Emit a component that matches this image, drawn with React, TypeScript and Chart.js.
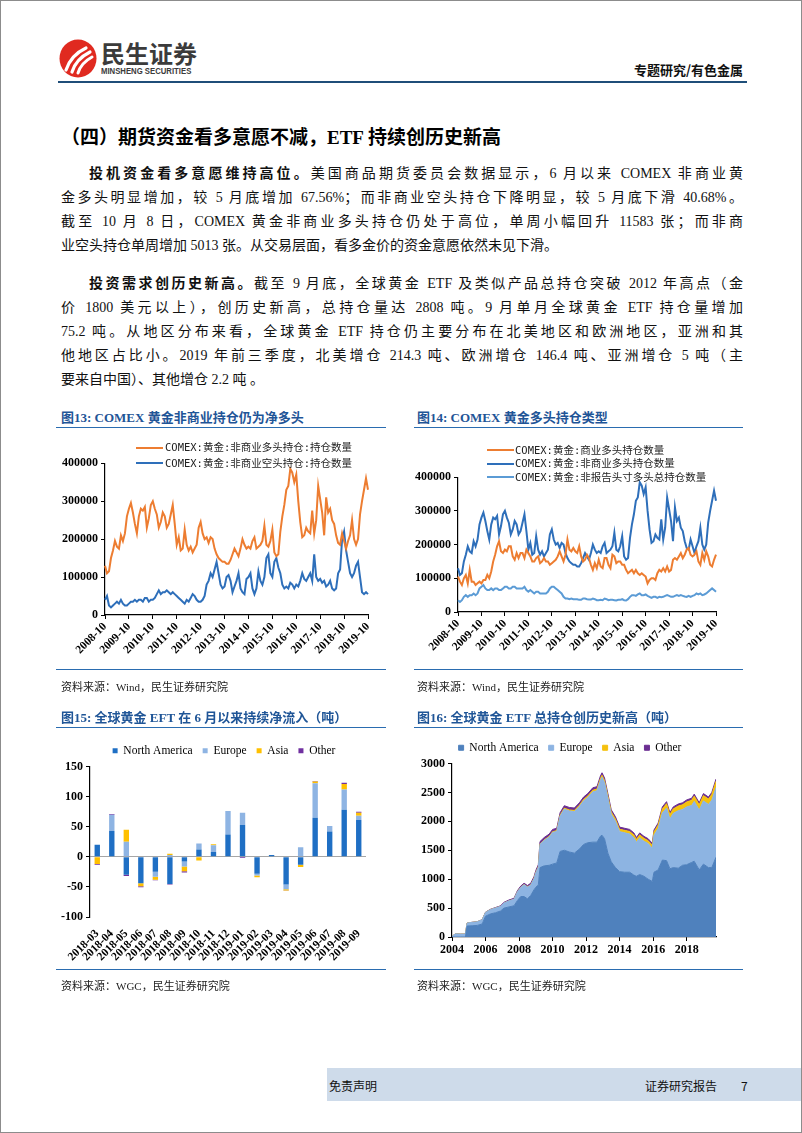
import React, { useEffect, useRef } from 'react';
import { Chart, registerables } from 'chart.js';

Chart.register(...registerables);

const SERIF = '"Liberation Serif", "Times New Roman", serif';
const BODY = '"Liberation Serif", "Noto Sans CJK SC", serif';
const CJK = '"Noto Sans CJK SC", sans-serif';
const MONO = '"DejaVu Sans Mono", "Noto Sans CJK SC", monospace';

Chart.defaults.font.family = SERIF;

// ---------- Chart 13 / 14 : COMEX positions (monthly, 2008-10 .. 2019-10) ----------
const monthLabels: string[] = [];
for (let y = 2008; y <= 2019; y++) {
  for (let m = 1; m <= 12; m++) {
    if ((y === 2008 && m < 10) || (y === 2019 && m > 10)) continue;
    monthLabels.push(`${y}-${String(m).padStart(2, '0')}`);
  }
}

const nonCommLong = [
  130000, 110000, 115000,
  150000, 170000, 195000, 180000, 175000, 210000, 195000, 215000, 260000, 280000, 295000, 270000,
  240000, 215000, 260000, 280000, 275000, 285000, 230000, 255000, 290000, 300000, 280000, 265000,
  230000, 245000, 270000, 260000, 230000, 240000, 265000, 290000, 240000, 185000, 205000, 170000,
  175000, 225000, 185000, 170000, 180000, 165000, 175000, 185000, 230000, 245000, 215000, 200000,
  205000, 190000, 205000, 200000, 175000, 160000, 150000, 145000, 140000, 140000, 135000, 135000,
  145000, 160000, 175000, 165000, 155000, 175000, 200000, 185000, 175000, 180000, 175000, 195000,
  205000, 175000, 180000, 185000, 195000, 235000, 185000, 180000, 195000, 225000, 165000, 155000,
  160000, 220000, 260000, 290000, 330000, 340000, 385000, 375000, 350000, 370000, 300000, 245000,
  205000, 210000, 230000, 220000, 215000, 275000, 215000, 250000, 340000, 305000, 270000, 210000,
  310000, 270000, 280000, 250000, 240000, 210000, 190000, 185000, 215000, 195000, 175000, 195000,
  210000, 250000, 200000, 185000, 200000, 265000, 300000, 330000, 360000, 330000,
];

const nonCommShort = [
  40000, 50000, 25000,
  20000, 25000, 30000, 35000, 30000, 40000, 30000, 25000, 25000, 30000, 35000, 35000,
  40000, 35000, 40000, 40000, 35000, 45000, 45000, 35000, 40000, 40000, 45000, 55000,
  65000, 55000, 60000, 60000, 65000, 60000, 55000, 60000, 55000, 50000, 45000, 40000,
  35000, 30000, 40000, 35000, 45000, 55000, 50000, 40000, 35000, 35000, 40000, 50000,
  80000, 90000, 110000, 100000, 120000, 140000, 110000, 80000, 70000, 75000, 100000, 105000,
  90000, 60000, 75000, 90000, 110000, 70000, 60000, 55000, 95000, 100000, 110000, 70000,
  55000, 70000, 115000, 90000, 80000, 100000, 150000, 160000, 110000, 100000, 140000, 150000,
  125000, 110000, 80000, 70000, 75000, 70000, 85000, 80000, 70000, 80000, 75000, 90000,
  110000, 95000, 90000, 100000, 110000, 90000, 160000, 100000, 90000, 95000, 85000, 90000,
  75000, 80000, 90000, 70000, 65000, 70000, 110000, 120000, 200000, 220000, 170000, 140000,
  110000, 100000, 110000, 130000, 140000, 100000, 60000, 55000, 60000, 55000,
];

const commLong = [
  105000, 90000, 80000,
  100000, 110000, 85000, 125000, 90000, 90000, 80000, 85000, 90000, 85000, 95000, 95000,
  110000, 100000, 120000, 150000, 170000, 195000, 210000, 180000, 175000, 185000, 180000, 195000,
  195000, 165000, 155000, 175000, 160000, 175000, 175000, 160000, 185000, 175000, 165000, 150000,
  150000, 160000, 165000, 145000, 150000, 160000, 150000, 150000, 140000, 145000, 150000, 155000,
  165000, 180000, 165000, 150000, 170000, 215000, 185000, 180000, 190000, 180000, 175000, 195000,
  165000, 150000, 155000, 170000, 160000, 140000, 125000, 145000, 130000, 155000, 135000, 130000,
  160000, 160000, 140000, 130000, 170000, 165000, 145000, 150000, 150000, 140000, 140000, 125000,
  115000, 120000, 125000, 115000, 125000, 115000, 110000, 115000, 110000, 105000, 85000, 95000,
  100000, 100000, 95000, 115000, 125000, 120000, 130000, 120000, 135000, 120000, 125000, 155000,
  160000, 155000, 165000, 175000, 160000, 170000, 185000, 190000, 170000, 165000, 170000, 180000,
  150000, 140000, 175000, 155000, 180000, 165000, 140000, 135000, 155000, 170000,
];

const nonReportLong = [
  35000, 30000, 35000,
  45000, 50000, 45000, 50000, 50000, 55000, 50000, 55000, 70000, 75000, 80000, 70000,
  65000, 65000, 70000, 65000, 70000, 70000, 65000, 65000, 70000, 75000, 75000, 70000,
  70000, 75000, 75000, 70000, 70000, 70000, 70000, 75000, 65000, 60000, 65000, 60000,
  55000, 60000, 60000, 55000, 55000, 55000, 55000, 60000, 70000, 75000, 75000, 70000,
  65000, 60000, 55000, 45000, 40000, 40000, 38000, 40000, 38000, 38000, 38000, 36000,
  36000, 40000, 40000, 38000, 37000, 37000, 40000, 38000, 35000, 35000, 36000, 35000,
  40000, 38000, 35000, 36000, 36000, 35000, 34000, 36000, 36000, 38000, 35000, 34000,
  38000, 45000, 50000, 50000, 48000, 52000, 55000, 50000, 50000, 52000, 48000, 45000,
  42000, 45000, 45000, 42000, 45000, 44000, 45000, 48000, 50000, 48000, 45000, 45000,
  48000, 50000, 48000, 50000, 48000, 46000, 45000, 48000, 45000, 48000, 50000, 55000,
  52000, 55000, 50000, 52000, 55000, 60000, 65000, 70000, 65000, 60000,
];

// ---------- Chart 15 : monthly ETF flows (tonnes) ----------
const flowMonths = [
  '2018-03', '2018-04', '2018-05', '2018-06', '2018-07', '2018-08', '2018-09', '2018-10', '2018-11', '2018-12',
  '2019-01', '2019-02', '2019-03', '2019-04', '2019-05', '2019-06', '2019-07', '2019-08', '2019-09',
];
const flowNA = [20, 43, -30, -44, -25, -45, -8, 12, 8, 37, 53, -28, 3, -46, -13, 65, 42, 78, 61];
const flowEU = [0, 27, 25, 0, -8, 3, -8, 10, 11, 39, 20, -3, 0, -8, 16, 57, 9, 34, 7];
const flowAsia = [-12, 0, 20, -5, -5, 2, -8, -6, 2, 0, 0, -3, 0, -2, -4, 3, 0, 9, 5];
const flowOther = [-1, 1, -2, -1.5, -1, -1, -2, 0, 0, 0, -2, 0, 0, -0.5, 0, 1, 0, 2, 2];

// ---------- Chart 16 : ETF holdings (tonnes) ----------
const etfDates = [
  2004.0, 2004.2, 2004.5, 2004.8, 2004.9, 2005.2, 2005.5, 2005.8, 2006.0, 2006.3, 2006.6, 2006.9,
  2007.1, 2007.4, 2007.7, 2007.9, 2008.1, 2008.3, 2008.5, 2008.7, 2008.9, 2009.0, 2009.15, 2009.25,
  2009.5, 2009.8, 2010.0, 2010.25, 2010.45, 2010.7, 2011.0, 2011.3, 2011.6, 2011.85, 2012.1, 2012.4,
  2012.65, 2012.85, 2012.95, 2013.1, 2013.3, 2013.5, 2013.75, 2014.0, 2014.3, 2014.6, 2014.85, 2015.0,
  2015.2, 2015.45, 2015.7, 2015.95, 2016.05, 2016.3, 2016.55, 2016.8, 2017.0, 2017.2, 2017.5, 2017.75,
  2018.0, 2018.3, 2018.45, 2018.75, 2019.0, 2019.3, 2019.5, 2019.75,
];
const holdNA = [
  0, 0, 0, 0, 190, 195, 200, 225, 360, 400, 420, 450,
  500, 520, 540, 630, 700, 700, 660, 720, 820, 860, 900, 1200,
  1230, 1240, 1260, 1280, 1480, 1500, 1470, 1450, 1520, 1600, 1630, 1640,
  1640, 1740, 1760, 1700, 1450, 1300, 1200, 1130, 1120, 1120, 1070, 1050,
  1080, 1050, 1000, 960, 1120, 1160, 1330, 1320, 1180, 1200, 1190, 1240,
  1250, 1290, 1310, 1160, 1260, 1200, 1200, 1380,
];
const holdEU = [
  10, 55, 50, 50, 50, 58, 62, 72, 65, 75, 82, 80,
  88, 105, 112, 150, 158, 205, 203, 177, 195, 252, 306, 402,
  441, 490, 548, 546, 612, 711, 710, 718, 736, 754, 782, 870,
  888, 963, 1002, 971, 953, 824, 802, 692, 682, 660, 649, 587,
  636, 606, 616, 575, 641, 717, 815, 910, 860, 938, 995, 963,
  999, 985, 1035, 1035, 1093, 1093, 1166, 1204,
];
const holdAsia = [
  0, 0, 0, 0, 0, 0, 0, 0, 0, 0, 0, 0,
  0, 0, 0, 0, 2, 3, 4, 5, 5, 6, 7, 8,
  9, 10, 12, 14, 16, 17, 18, 20, 22, 24, 26, 28,
  30, 32, 33, 34, 35, 36, 38, 40, 42, 44, 46, 48,
  50, 50, 50, 52, 56, 60, 70, 75, 75, 77, 80, 82,
  86, 90, 90, 90, 92, 92, 98, 108,
];
const holdOther = [
  0, 0, 0, 0, 0, 2, 3, 3, 5, 5, 8, 10,
  12, 15, 18, 20, 20, 22, 23, 28, 30, 32, 37, 40,
  40, 40, 40, 40, 42, 42, 42, 42, 42, 42, 42, 42,
  42, 45, 45, 45, 42, 40, 40, 38, 36, 36, 35, 35,
  34, 34, 34, 33, 33, 33, 35, 35, 35, 35, 35, 35,
  35, 35, 35, 35, 35, 35, 36, 38,
];
const etfYearTicks = [2004, 2006, 2008, 2010, 2012, 2014, 2016, 2018];

// ---------- colours ----------
const ORANGE = '#ed7d31';
const BLUE = '#2e6fba';
const LIGHTBLUE = '#5b9bd5';
const C_NA = '#1f6fc4';
const C_EU = '#8eb4e3';
const C_ASIA = '#ffc000';
const C_OTHER = '#7030a0';
const A_NA = '#4f81bd';
const A_EU = '#8db4e2';
const A_ASIA = '#f5c10e';
const A_OTHER = '#6b2e91';

const boldTick = (size: number) => ({ family: SERIF, weight: 'bold' as const, size });
const axisBorder = { display: true, color: '#000', width: 1.2 };
const tickGrid = { display: true, drawOnChartArea: false, drawTicks: true, tickLength: 4, color: '#000' };

// moves the legend so that it is centred on a given x (canvas px)
const centerLegend = (cx: number) => ({
  id: 'centerLegend',
  afterLayout(chart: any) {
    const lg = chart.legend;
    if (!lg) return;
    const w = lg.right - lg.left;
    lg.left = cx - w / 2;
    lg.right = cx + w / 2;
  },
});

function ChartCanvas({ left, top, width, height, make }: any) {
  const ref = useRef<HTMLCanvasElement>(null);
  useEffect(() => {
    const chart = new Chart(ref.current as HTMLCanvasElement, make());
    return () => chart.destroy();
  }, []);
  return (
    <div style={{ position: 'absolute', left, top, width, height }}>
      <canvas ref={ref} width={width} height={height} style={{ width, height, display: 'block' }} />
    </div>
  );
}

const commonOpts = {
  responsive: false,
  animation: false as const,
  devicePixelRatio: 1,
  events: [] as any[],
};

function lineDs(label: string, data: number[], color: string) {
  return { label, data, borderColor: color, backgroundColor: color, borderWidth: 2, pointRadius: 0, tension: 0, fill: false };
}

function positionsScales(yW: number, xH: number) {
  return {
    x: {
      type: 'category' as const,
      offset: false,
      grid: tickGrid,
      border: axisBorder,
      ticks: {
        autoSkip: false,
        maxRotation: 45,
        minRotation: 45,
        padding: 1,
        color: '#000',
        font: boldTick(11.5),
        callback: (_v: any, i: number) => (i % 12 === 0 ? monthLabels[i] : null),
      },
      afterFit: (s: any) => { s.height = xH; },
    },
    y: {
      min: 0,
      max: 400000,
      grid: tickGrid,
      border: axisBorder,
      ticks: { stepSize: 100000, color: '#000', font: boldTick(12), padding: 3, callback: (v: any) => String(v) },
      afterFit: (s: any) => { s.width = yW; },
    },
  };
}

const makeChart13 = () => ({
  type: 'line',
  data: {
    labels: monthLabels,
    datasets: [
      lineDs('COMEX:黄金:非商业多头持仓:持仓数量', nonCommLong, ORANGE),
      lineDs('COMEX:黄金:非商业空头持仓:持仓数量', nonCommShort, BLUE),
    ],
  },
  options: {
    ...commonOpts,
    layout: { padding: { left: 0, top: 10, right: 18, bottom: 0 } },
    plugins: { legend: { display: false }, tooltip: { enabled: false } },
    scales: positionsScales(64, 56),
  },
});

const makeChart14 = () => ({
  type: 'line',
  data: {
    labels: monthLabels,
    datasets: [
      lineDs('COMEX:黄金:商业多头持仓数量', commLong, ORANGE),
      lineDs('COMEX:黄金:非商业多头持仓数量', nonCommLong, BLUE),
      lineDs('COMEX:黄金:非报告头寸多头总持仓数量', nonReportLong, LIGHTBLUE),
    ],
  },
  options: {
    ...commonOpts,
    layout: { padding: { left: 0, top: 10, right: 15, bottom: 0 } },
    plugins: { legend: { display: false }, tooltip: { enabled: false } },
    scales: positionsScales(62, 59),
  },
});

const legendTop = {
  display: true,
  position: 'top' as const,
  align: 'center' as const,
  labels: { boxWidth: 5, boxHeight: 5, padding: 10, color: '#000', font: { family: SERIF, size: 11.5 } },
};

const makeChart15 = () => ({
  type: 'bar',
  data: {
    labels: flowMonths,
    datasets: [
      { label: 'North America', data: flowNA, backgroundColor: C_NA, borderWidth: 0 },
      { label: 'Europe', data: flowEU, backgroundColor: C_EU, borderWidth: 0 },
      { label: 'Asia', data: flowAsia, backgroundColor: C_ASIA, borderWidth: 0 },
      { label: 'Other', data: flowOther, backgroundColor: C_OTHER, borderWidth: 0 },
    ],
  },
  plugins: [centerLegend(183)],
  options: {
    ...commonOpts,
    layout: { padding: { left: 0, top: 0, right: 15, bottom: 0 } },
    plugins: { legend: legendTop, tooltip: { enabled: false } },
    datasets: { bar: { barPercentage: 0.37, categoryPercentage: 1 } },
    scales: {
      x: {
        stacked: true,
        grid: { display: false },
        border: { display: false },
        ticks: { autoSkip: false, maxRotation: 45, minRotation: 45, padding: 2, color: '#000', font: boldTick(11.5) },
        afterFit: (s: any) => { s.height = 44; },
      },
      y: {
        stacked: true,
        min: -100,
        max: 150,
        border: axisBorder,
        grid: {
          display: true,
          drawOnChartArea: true,
          drawTicks: true,
          tickLength: 4,
          tickColor: '#000',
          color: (c: any) => (c.tick && c.tick.value === 0 ? '#a6a6a6' : 'rgba(0,0,0,0)'),
        },
        ticks: { stepSize: 50, color: '#000', font: boldTick(12), padding: 3, callback: (v: any) => String(v) },
        afterFit: (s: any) => { s.width = 49; },
      },
    },
  },
});

function areaDs(label: string, vals: number[], color: string, fill: any) {
  return {
    label,
    data: etfDates.map((d, i) => ({ x: d, y: vals[i] })),
    borderColor: color,
    backgroundColor: color,
    borderWidth: 1,
    pointRadius: 0,
    tension: 0,
    fill,
  };
}

const makeChart16 = () => ({
  type: 'line',
  data: {
    datasets: [
      areaDs('North America', holdNA, A_NA, 'origin'),
      areaDs('Europe', holdEU, A_EU, '-1'),
      areaDs('Asia', holdAsia, A_ASIA, '-1'),
      areaDs('Other', holdOther, A_OTHER, '-1'),
    ],
  },
  plugins: [centerLegend(169)],
  options: {
    ...commonOpts,
    layout: { padding: { left: 0, top: 0, right: 15, bottom: 0 } },
    plugins: { legend: legendTop, tooltip: { enabled: false } },
    scales: {
      x: {
        type: 'linear' as const,
        min: 2004,
        max: 2019.75,
        grid: tickGrid,
        border: axisBorder,
        ticks: {
          stepSize: 2,
          includeBounds: false,
          maxRotation: 0,
          color: '#000',
          font: boldTick(12),
          padding: 2,
          callback: (v: any) => (etfYearTicks.includes(v) ? String(v) : null),
        },
        afterFit: (s: any) => { s.height = 24; },
      },
      y: {
        stacked: true,
        min: 0,
        max: 3000,
        grid: tickGrid,
        border: axisBorder,
        ticks: { stepSize: 500, color: '#000', font: boldTick(12), padding: 3, callback: (v: any) => String(v) },
        afterFit: (s: any) => { s.width = 51; },
      },
    },
  },
});

// ---------- HTML helpers ----------
function Txt({ x, y, size = 14, weight = 400, family = BODY, color = '#000', children, style }: any) {
  const lh = Math.round(size * 1.4);
  return (
    <div
      style={{
        position: 'absolute', left: x, top: y - lh / 2, height: lh, lineHeight: `${lh}px`,
        fontSize: size, fontWeight: weight, fontFamily: family, color, whiteSpace: 'nowrap', ...style,
      }}
    >
      {children}
    </div>
  );
}

function BodyLine({ x, y, w, last, children }: any) {
  return (
    <div
      style={{
        position: 'absolute', left: x, top: y - 11, width: w, height: 22, lineHeight: '22px',
        fontSize: 14, fontFamily: BODY, color: '#111',
        textAlign: last ? 'left' : 'justify', textAlignLast: last ? 'left' : 'justify', whiteSpace: 'normal',
      } as any}
    >
      {children}
    </div>
  );
}

function Rule({ x1, x2, y, h = 1.5, color = '#2a6cb0' }: any) {
  return <div style={{ position: 'absolute', left: x1, top: y - h / 2, width: x2 - x1, height: h, background: color }} />;
}

function LineLegend({ lineX, textX, rows }: any) {
  return (
    <>
      {rows.map((r: any, i: number) => (
        <React.Fragment key={i}>
          <div style={{ position: 'absolute', left: lineX, top: r.y - 1, width: 27, height: 2.2, background: r.color }} />
          <Txt x={textX} y={r.y} size={10.5} family={MONO} color="#222">{r.label}</Txt>
        </React.Fragment>
      ))}
    </>
  );
}

function ChartTitle({ x, y, children }: any) {
  return <Txt x={x} y={y} size={13} weight={700} family={BODY} color="#1f5597">{children}</Txt>;
}

function Logo() {
  return (
    <svg style={{ position: 'absolute', left: 58, top: 38 }} width="38" height="39" viewBox="0 0 38 39">
      <ellipse cx="19" cy="19.5" rx="18.5" ry="19" fill="#e02a20" />
      <path d="M7 31 Q 12 16 27 9" stroke="#fff" strokeWidth="3.2" fill="none" strokeLinecap="round" />
      <path d="M13 33 Q 17 20 31 13" stroke="#fff" strokeWidth="3.2" fill="none" strokeLinecap="round" />
      <path d="M19 34 Q 22 24 33 18" stroke="#fff" strokeWidth="3" fill="none" strokeLinecap="round" />
    </svg>
  );
}

export default function App() {
  return (
    <div
      style={{
        position: 'absolute', left: 0, top: 0, width: 802, height: 1133, boxSizing: 'border-box',
        border: '1px solid #8c8c8c', background: '#fff', overflow: 'hidden', fontFamily: BODY,
      }}
    >
      {/* header */}
      <Logo />
      <Txt x={100} y={52} size={24} weight={700} family={CJK} color="#3b3b3b">民生证券</Txt>
      <Txt x={100} y={70} size={9} weight={700} family={'"Liberation Sans", Arial, sans-serif'} color="#3b3b3b"
        style={{ transform: 'scaleX(0.86)', transformOrigin: 'left center' }}>MINSHENG SECURITIES</Txt>
      <div style={{ position: 'absolute', left: 560, top: 60, width: 182, textAlign: 'right', fontSize: 13, fontWeight: 700, fontFamily: CJK, lineHeight: '18px', color: '#111' }}>专题研究/有色金属</div>
      <Rule x1={57} x2={746} y={80.5} h={2} color="#1f4e79" />

      {/* section title */}
      <Txt x={60} y={136} size={19} weight={700} family={BODY} color="#000">（四）期货资金看多意愿不减，ETF 持续创历史新高</Txt>

      {/* paragraph 1 */}
      <BodyLine x={88} y={173} w={654}><b>投机资金看多意愿维持高位。</b>美国商品期货委员会数据显示，6 月以来 COMEX 非商业黄</BodyLine>
      <BodyLine x={60} y={197} w={682}>金多头明显增加，较 5 月底增加 67.56%；而非商业空头持仓下降明显，较 5 月底下滑 40.68%。</BodyLine>
      <BodyLine x={60} y={221} w={682}>截至 10 月 8 日，COMEX 黄金非商业多头持仓仍处于高位，单周小幅回升 11583 张；而非商</BodyLine>
      <BodyLine x={60} y={245} w={682} last>业空头持仓单周增加 5013 张。从交易层面，看多金价的资金意愿依然未见下滑。</BodyLine>

      {/* paragraph 2 */}
      <BodyLine x={88} y={283} w={654}><b>投资需求创历史新高。</b>截至 9 月底，全球黄金 ETF 及类似产品总持仓突破 2012 年高点（金</BodyLine>
      <BodyLine x={60} y={307} w={682}>价 1800 美元以上），创历史新高，总持仓量达 2808 吨。9 月单月全球黄金 ETF 持仓量增加</BodyLine>
      <BodyLine x={60} y={331} w={682}>75.2 吨。从地区分布来看，全球黄金 ETF 持仓仍主要分布在北美地区和欧洲地区，亚洲和其</BodyLine>
      <BodyLine x={60} y={355} w={682}>他地区占比小。2019 年前三季度，北美增仓 214.3 吨、欧洲增仓 146.4 吨、亚洲增仓 5 吨（主</BodyLine>
      <BodyLine x={60} y={379} w={682} last>要来自中国）、其他增仓 2.2 吨 。</BodyLine>

      {/* chart 13 */}
      <ChartTitle x={60} y={416.5}>图13: COMEX 黄金非商业持仓仍为净多头</ChartTitle>
      <Rule x1={55} x2={385} y={426.5} />
      <ChartCanvas left={40} top={452} width={345} height={218} make={makeChart13} />
      <LineLegend lineX={135} textX={164} rows={[
        { y: 446.7, color: ORANGE, label: 'COMEX:黄金:非商业多头持仓:持仓数量' },
        { y: 462.3, color: BLUE, label: 'COMEX:黄金:非商业空头持仓:持仓数量' },
      ]} />
      <Rule x1={55} x2={385} y={668.5} />
      <Txt x={60} y={686} size={11} family={BODY} color="#222">资料来源：Wind，民生证券研究院</Txt>

      {/* chart 14 */}
      <ChartTitle x={416} y={416.5}>图14: COMEX 黄金多头持仓类型</ChartTitle>
      <Rule x1={413} x2={742} y={426.5} />
      <ChartCanvas left={395} top={466} width={335} height={204} make={makeChart14} />
      <LineLegend lineX={486} textX={514} rows={[
        { y: 449.3, color: ORANGE, label: 'COMEX:黄金:商业多头持仓数量' },
        { y: 462.7, color: BLUE, label: 'COMEX:黄金:非商业多头持仓数量' },
        { y: 476, color: LIGHTBLUE, label: 'COMEX:黄金:非报告头寸多头总持仓数量' },
      ]} />
      <Rule x1={413} x2={742} y={668.5} />
      <Txt x={416} y={686} size={11} family={BODY} color="#222">资料来源：Wind，民生证券研究院</Txt>

      {/* chart 15 */}
      <ChartTitle x={60} y={716.5}>图15: 全球黄金 EFT 在 6 月以来持续净流入（吨）</ChartTitle>
      <Rule x1={55} x2={385} y={726.5} />
      <ChartCanvas left={40} top={734} width={340} height={226} make={makeChart15} />
      <Rule x1={55} x2={385} y={968.5} />
      <Txt x={60} y={985.5} size={11} family={BODY} color="#222">资料来源：WGC，民生证券研究院</Txt>

      {/* chart 16 */}
      <ChartTitle x={416} y={716.5}>图16: 全球黄金 ETF 总持仓创历史新高（吨）</ChartTitle>
      <Rule x1={413} x2={742} y={726.5} />
      <ChartCanvas left={400} top={731} width={330} height={229} make={makeChart16} />
      <Rule x1={413} x2={742} y={968.5} />
      <Txt x={416} y={985.5} size={11} family={BODY} color="#222">资料来源：WGC，民生证券研究院</Txt>

      {/* footer */}
      <div style={{ position: 'absolute', left: 326, top: 1067, width: 480, height: 33, background: '#cedbea' }} />
      <Txt x={328} y={1084} size={12} family={CJK} color="#111">免责声明</Txt>
      <Txt x={644} y={1084} size={12} family={CJK} color="#111">证券研究报告</Txt>
      <Txt x={740} y={1084} size={12} family={CJK} color="#111">7</Txt>
    </div>
  );
}
